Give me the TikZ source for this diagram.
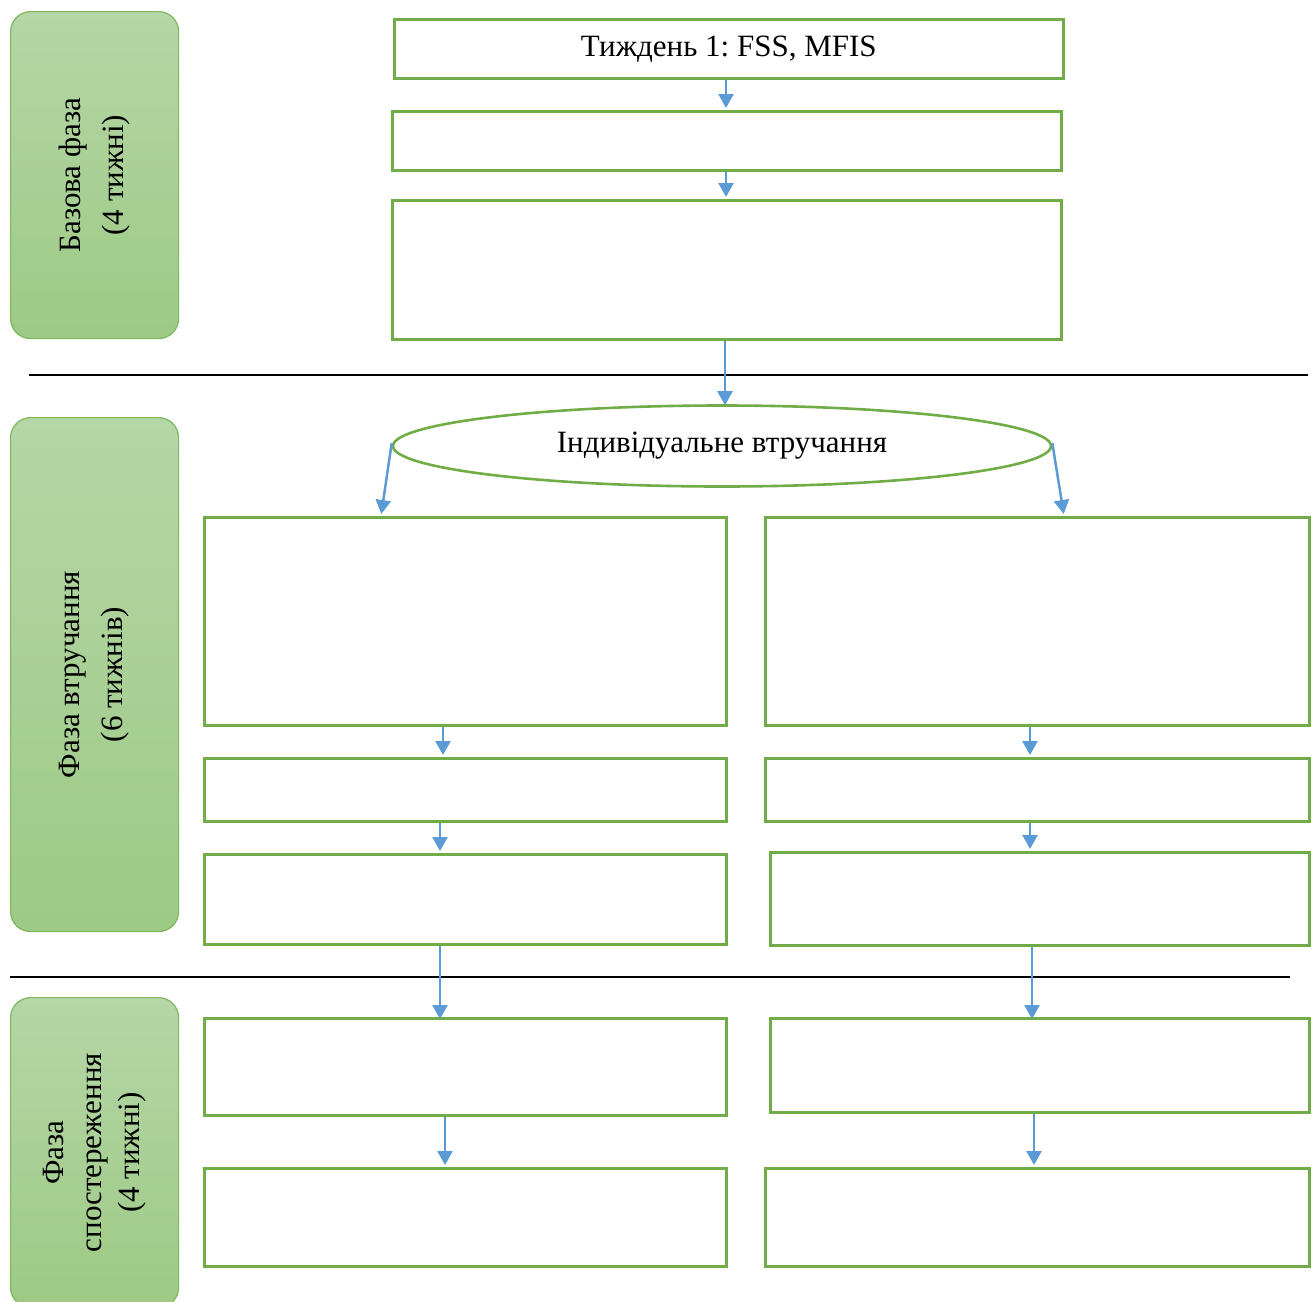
\documentclass[tikz,border=0pt]{standalone}
\usepackage{fontspec}
\setmainfont{Liberation Serif}
\newfontfamily\tnr{Liberation Serif}
\usetikzlibrary{shapes.geometric,arrows.meta}
\definecolor{gborder}{HTML}{70AD47}
\definecolor{ptop}{HTML}{B5D6A7}
\definecolor{pbot}{HTML}{9DCA84}
\definecolor{pedge}{HTML}{7DB85E}
\definecolor{arrblue}{HTML}{5B9BD5}
\tikzset{
  gbox/.style={draw=gborder, line width=2.6pt, anchor=north west, inner sep=0pt, fill=white},
  phasebox/.style={draw=pedge, line width=1.2pt, rounded corners=20pt, top color=ptop, bottom color=pbot, anchor=north west, inner sep=0pt},
  phasetext/.style={rotate=90, align=center, font=\tnr\frenchspacing\fontsize{31}{43}\selectfont},
  arr/.style={draw=arrblue, line width=2.5pt, -{Triangle[length=14pt,width=15pt]}, shorten >=2pt},
  sepline/.style={draw=black, line width=2.6pt},
  txt/.style={font=\tnr\frenchspacing\fontsize{31}{37}\selectfont}
}
\begin{document}
\begin{tikzpicture}[x=1pt,y=-1pt]
\useasboundingbox (0,0) rectangle (1316,1301);
% phase boxes
\node[phasebox, minimum width=168pt, minimum height=327pt] (P1) at (10,11) {};
\node[phasebox, minimum width=168pt, minimum height=514pt] (P2) at (10,417) {};
\node[phasebox, minimum width=168pt, minimum height=310pt] (P3) at (10,997) {};
\node[phasetext] (P1t) at (P1.center) {Базова фаза\\(4 тижні)};
\node[phasetext] (P2t) at (P2.center) {Фаза втручання\\(6 тижнів)};
\node[phasetext, font=\tnr\fontsize{31}{38}\selectfont] (P3t) at (P3.center) {Фаза\\спостереження\\(4 тижні)};
% separators
\coordinate (s1a) at (29,375); \coordinate (s1b) at (1308,375);
\coordinate (s2a) at (10,977); \coordinate (s2b) at (1290,977);
\draw[sepline] (s1a) -- (s1b);
\draw[sepline] (s2a) -- (s2b);
% top column
\node[gbox, minimum width=669pt, minimum height=59pt] (T1) at (393,18) {};
\node[txt] (T1t) at (T1.center) {Тиждень 1: FSS, MFIS};
\node[gbox, minimum width=669pt, minimum height=59pt] (T2) at (391,110) {};
\node[gbox, minimum width=669pt, minimum height=139pt] (T3) at (391,199) {};
% ellipse
\node[draw=gborder, line width=2.6pt, ellipse, minimum width=658pt, minimum height=81pt, inner sep=0pt, txt] (E) at (722,446) {Індивідуальне втручання};
% left column
\node[gbox, minimum width=522pt, minimum height=208pt] (L1) at (203,516) {};
\node[gbox, minimum width=522pt, minimum height=63pt] (L2) at (203,757) {};
\node[gbox, minimum width=522pt, minimum height=90pt] (L3) at (203,853) {};
\node[gbox, minimum width=522pt, minimum height=97pt] (L4) at (203,1017) {};
\node[gbox, minimum width=522pt, minimum height=98pt] (L5) at (203,1167) {};
% right column
\node[gbox, minimum width=544pt, minimum height=208pt] (R1) at (764,516) {};
\node[gbox, minimum width=544pt, minimum height=63pt] (R2) at (764,757) {};
\node[gbox, minimum width=539pt, minimum height=93pt] (R3) at (769,851) {};
\node[gbox, minimum width=539pt, minimum height=94pt] (R4) at (769,1017) {};
\node[gbox, minimum width=544pt, minimum height=98pt] (R5) at (764,1167) {};
% arrow x positions
\coordinate (xa) at (726,0);
\coordinate (xb) at (725,0);
\coordinate (xEL) at (381,0);
\coordinate (xER) at (1064,0);
\coordinate (xl1) at (443,0);
\coordinate (xl2) at (440,0);
\coordinate (xl3) at (445,0);
\coordinate (xr1) at (1030,0);
\coordinate (xr2) at (1032,0);
\coordinate (xr3) at (1034,0);
% arrows
\draw[arr] (T1.south -| xa) -- (T2.north -| xa);
\draw[arr] (T2.south -| xa) -- (T3.north -| xa);
\draw[arr] (T3.south -| xb) -- ([yshift=-3pt]E.north -| xb);
\draw[arr] ([yshift=3pt]E.west) -- (L1.north -| xEL);
\draw[arr] ([yshift=3pt]E.east) -- (R1.north -| xER);
\draw[arr] (L1.south -| xl1) -- (L2.north -| xl1);
\draw[arr] (L2.south -| xl2) -- (L3.north -| xl2);
\draw[arr] (L3.south -| xl2) -- ([yshift=-4pt]L4.north -| xl2);
\draw[arr] (L4.south -| xl3) -- (L5.north -| xl3);
\draw[arr] (R1.south -| xr1) -- (R2.north -| xr1);
\draw[arr] (R2.south -| xr1) -- (R3.north -| xr1);
\draw[arr] (R3.south -| xr2) -- ([yshift=-4pt]R4.north -| xr2);
\draw[arr] (R4.south -| xr3) -- (R5.north -| xr3);
\end{tikzpicture}
\end{document}
